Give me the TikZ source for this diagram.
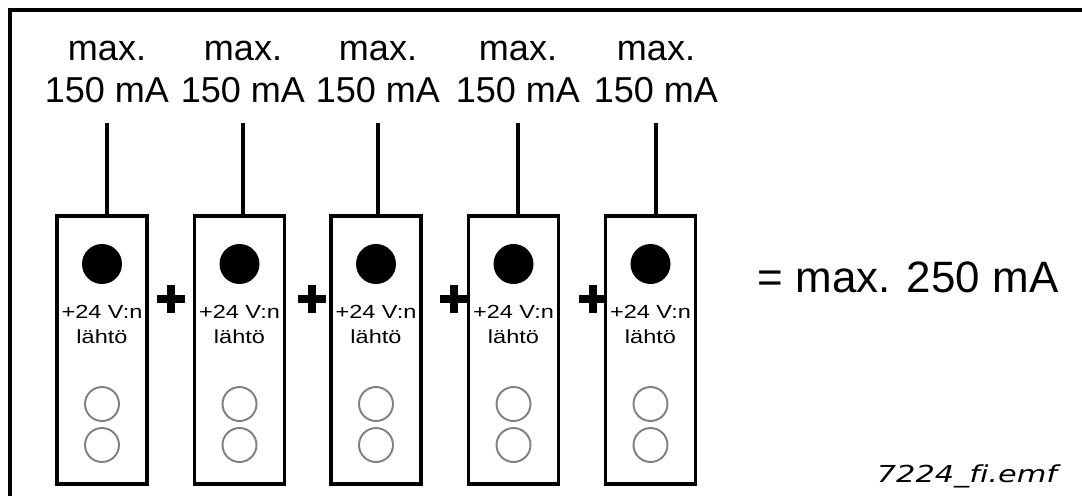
\documentclass[tikz,border=0pt]{standalone}
\usepackage{fontspec}
\setmainfont{Liberation Sans}
\newfontfamily\cardfont[FakeStretch=1.24]{Liberation Sans}
\newfontfamily\tagfont[FakeStretch=1.3,Ligatures=NoCommon]{DejaVu Sans}
\usepackage{xcolor}
\usepackage{tikz}
\usetikzlibrary{positioning}
\definecolor{portGray}{HTML}{808080}
\tikzset{
 card/.style={draw, line width=1.9pt, minimum width=1.8cm, minimum height=5.36cm, inner sep=0pt},
 led/.style={circle, fill=black, minimum size=0.8cm, inner sep=0pt},
 port/.style={circle, draw=portGray, line width=1.1pt, minimum size=0.68cm, inner sep=0pt},
 cardtext/.style={align=center, font=\cardfont\fontsize{10.8}{14.2}\selectfont, inner sep=0pt},
 toplabel/.style={align=center, font=\fontsize{20.5}{23.9}\selectfont, inner xsep=0pt, inner ysep=0.4cm},
 wire/.style={line width=1.9pt}
}
% one output card: frame, led, text and two ports
\newcommand{\ocard}[2]{%
 \node[card] (#2) at (#1,350) {};%
 \node[led] (#2d) at (#1,264) {};%
 \node[cardtext] (#2t) at (#1,324) {+24 V:n\\lähtö};%
 \node[port] (#2a) at (#1,404) {};%
 \node[port] (#2b) at (#1,445) {};}
% current label above a card
\newcommand{\olabel}[3]{%
 \node[toplabel] (#2) at (#1,71.7) {max.\\150 mA};%
 \draw[wire] (#2.south) -- (#2.south |- #3.north);}
% bold plus between cards
\newcommand{\plusmark}[1]{%
 \fill (#1-14,295) rectangle (#1+14,303);%
 \fill (#1-4,285) rectangle (#1+4,313);}

\begin{document}
\begin{tikzpicture}[x=0.02cm, y=-0.02cm]
\useasboundingbox (0,0) rectangle (1082,495);
\draw[wire] (1090,10) -- (10,10) -- (10,500);
\ocard{102}{c1}
\ocard{239.5}{c2}
\ocard{376}{c3}
\ocard{513.5}{c4}
\ocard{650.5}{c5}
\olabel{107}{l1}{c1}
\olabel{243}{l2}{c2}
\olabel{378}{l3}{c3}
\olabel{518}{l4}{c4}
\olabel{656}{l5}{c5}
\plusmark{171}
\plusmark{312}
\plusmark{454}
\plusmark{593}
\node[font=\fontsize{25}{30}\selectfont, anchor=base, inner sep=0pt] (total) at (908,292) {= max. 250 mA};
\node[font=\tagfont\itshape\fontsize{13.3}{16}\selectfont, anchor=base, inner sep=0pt] (fname) at (967,482) {7224\_fi.emf};
\end{tikzpicture}
\end{document}
